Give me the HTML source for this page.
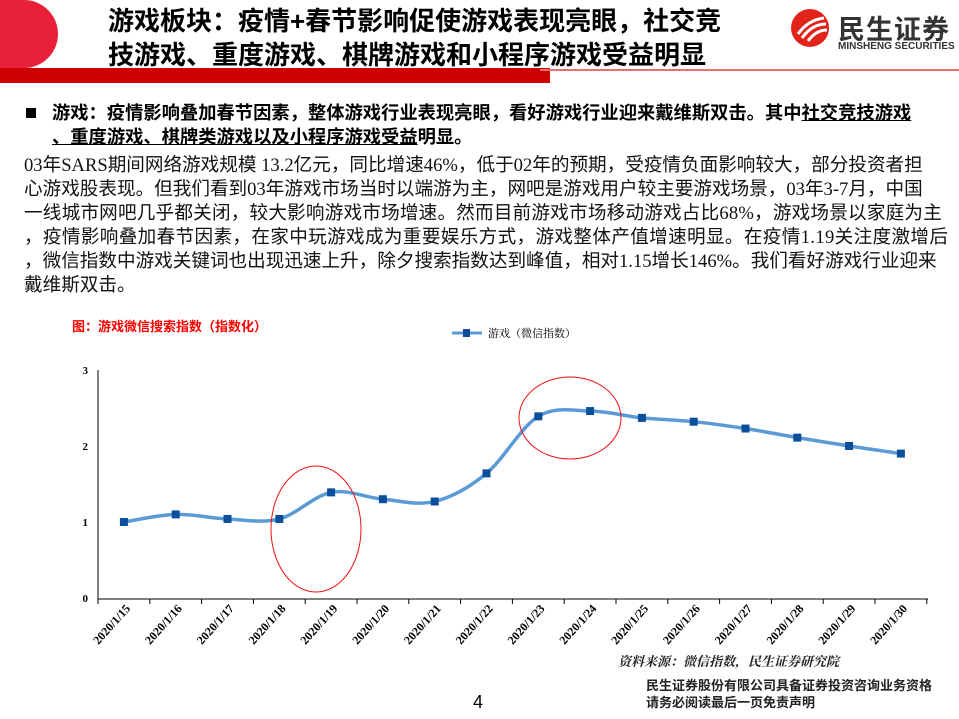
<!DOCTYPE html>
<html><head><meta charset="utf-8"><style>
body{margin:0;width:959px;height:719px;background:#fff;position:relative;overflow:hidden;font-family:"Liberation Sans","Noto Sans CJK SC",sans-serif}
.abs{position:absolute}
.title{left:108px;top:4px;font-size:26px;font-weight:bold;line-height:34px;color:#000;letter-spacing:0px}
.body{left:24px;top:154px;font-family:"Liberation Serif","Noto Sans CJK SC",serif;font-size:18.6px;line-height:24px;color:#111;white-space:nowrap}
.bul{left:24px;top:101px;font-size:18.3px;font-weight:bold;line-height:24px;white-space:nowrap}
</style></head><body>
<div class="abs" style="left:0;top:0;width:58px;height:68px;background:#e8203a;border-radius:0 34px 34px 0"></div>
<div class="abs" style="left:0;top:68px;width:550px;height:15px;background:#cc0000"></div>
<div class="abs" style="left:540px;top:69px;width:419px;height:2px;background:#e87070"></div>
<div class="abs title">游戏板块：疫情+春节影响促使游戏表现亮眼，社交竞<br>技游戏、重度游戏、棋牌游戏和小程序游戏受益明显</div>
<svg class="abs" style="left:790px;top:8px" width="40" height="40"><circle cx="20" cy="20" r="19" fill="#e2231a"/><path d="M8 26 Q18 12 34 10 M12 30 Q22 16 36 16 M18 33 Q26 22 37 22" stroke="#fff" stroke-width="3" fill="none"/></svg>
<div class="abs" style="left:838px;top:8px;font-size:27px;font-weight:bold;color:#333;letter-spacing:1px">民生证券</div>
<div class="abs" style="left:838px;top:41px;font-size:10px;font-weight:bold;color:#333">MINSHENG SECURITIES</div>
<div class="abs" style="left:26px;top:108px;width:10px;height:10px;background:#000"></div>
<div class="abs bul" style="left:52px">游戏：疫情影响叠加春节因素，整体游戏行业表现亮眼，看好游戏行业迎来戴维斯双击。其中<u>社交竞技游戏</u><br><u>、重度游戏、棋牌类游戏以及小程序游戏受益</u>明显。</div>
<div class="abs body">03年SARS期间网络游戏规模 13.2亿元，同比增速46%，低于02年的预期，受疫情负面影响较大，部分投资者担<br>心游戏股表现。但我们看到03年游戏市场当时以端游为主，网吧是游戏用户较主要游戏场景，03年3-7月，中国<br><span style="letter-spacing:0.2px">一线城市网吧几乎都关闭，较大影响游戏市场增速。然而目前游戏市场移动游戏占比68%，游戏场景以家庭为主</span><br><span style="letter-spacing:0.35px">，疫情影响叠加春节因素，在家中玩游戏成为重要娱乐方式，游戏整体产值增速明显。在疫情1.19关注度激增后</span><br>，微信指数中游戏关键词也出现迅速上升，除夕搜索指数达到峰值，相对1.15增长146%。我们看好游戏行业迎来<br>戴维斯双击。</div>
<div class="abs" style="left:72px;top:316px;font-size:13px;font-weight:bold;color:#ff0000">图：游戏微信搜索指数（指数化）</div>
<svg class="abs" style="left:0;top:0" width="959" height="719" id="ch">
<line x1="452" y1="333" x2="482" y2="333" stroke="#5b9bd5" stroke-width="3"/><rect x="463" y="329" width="7" height="8" fill="#0b4f9c"/>
<text x="488" y="337" font-size="11" font-family="Liberation Serif,Noto Serif CJK SC,serif">游戏（微信指数）</text>
<line x1="98" y1="370" x2="98" y2="599" stroke="#000"/>
<line x1="98" y1="599" x2="928" y2="599" stroke="#000"/>
<g font-size="11" font-weight="bold" font-family="Liberation Serif,serif" text-anchor="end">
<text x="88" y="374">3</text><text x="88" y="450">2</text><text x="88" y="526">1</text><text x="88" y="602">0</text></g>
<g stroke="#000" id="ticks"></g>
<g id="lbl" font-size="12" font-weight="bold" font-family="Liberation Serif,serif"></g>
<path id="ln" fill="none" stroke="#5b9bd5" stroke-width="3.5"/>
<g id="mk" fill="#0b4f9c"></g>
<ellipse cx="316" cy="529" rx="45" ry="63" fill="none" stroke="#ee1111" stroke-width="1"/>
<ellipse cx="570" cy="418" rx="51" ry="41" fill="none" stroke="#ee1111" stroke-width="1"/>
<text x="618" y="666" font-size="13" font-style="italic" font-weight="bold" fill="#222" font-family="Liberation Serif,Noto Serif CJK SC,serif">资料来源：微信指数，民生证券研究院</text>
<text x="473" y="708" font-size="18" font-family="Liberation Sans,sans-serif">4</text>
<text x="646" y="690" font-size="13" font-weight="bold" fill="#222">民生证券股份有限公司具备证券投资咨询业务资格</text>
<text x="646" y="707" font-size="13" font-weight="bold" fill="#222">请务必阅读最后一页免责声明</text>
</svg>
<script>
var v=[1.0,1.10,1.04,1.04,1.39,1.30,1.27,1.64,2.39,2.46,2.37,2.32,2.23,2.11,2.00,1.90];
var d=["15","16","17","18","19","20","21","22","23","24","25","26","27","28","29","30"];
var ns="http://www.w3.org/2000/svg",s=51.8,p=[];
for(var i=0;i<16;i++)p.push([98+s*(i+0.5),598-v[i]*76]);
var t=document.getElementById("ticks"),l=document.getElementById("lbl"),m=document.getElementById("mk");
for(var i=0;i<=16;i++){var e=document.createElementNS(ns,"line");var x=98+s*i;e.setAttribute("x1",x);e.setAttribute("x2",x);e.setAttribute("y1",599);e.setAttribute("y2",604);t.appendChild(e);}
for(var i=0;i<16;i++){var x=p[i][0]+7,y=609;var e=document.createElementNS(ns,"text");e.setAttribute("transform","translate("+x+","+y+") rotate(-48)");e.setAttribute("text-anchor","end");e.textContent="2020/1/"+d[i];l.appendChild(e);
var r=document.createElementNS(ns,"rect");r.setAttribute("x",p[i][0]-4);r.setAttribute("y",p[i][1]-4);r.setAttribute("width",8);r.setAttribute("height",8);m.appendChild(r);}
var path="M"+p[0][0]+","+p[0][1];
for(var i=0;i<15;i++){var a=p[Math.max(i-1,0)],b=p[i],c=p[i+1],q=p[Math.min(i+2,15)];
path+=" C"+(b[0]+(c[0]-a[0])/6)+","+(b[1]+(c[1]-a[1])/6)+" "+(c[0]-(q[0]-b[0])/6)+","+(c[1]-(q[1]-b[1])/6)+" "+c[0]+","+c[1];}
document.getElementById("ln").setAttribute("d",path);
</script>
</body></html>
